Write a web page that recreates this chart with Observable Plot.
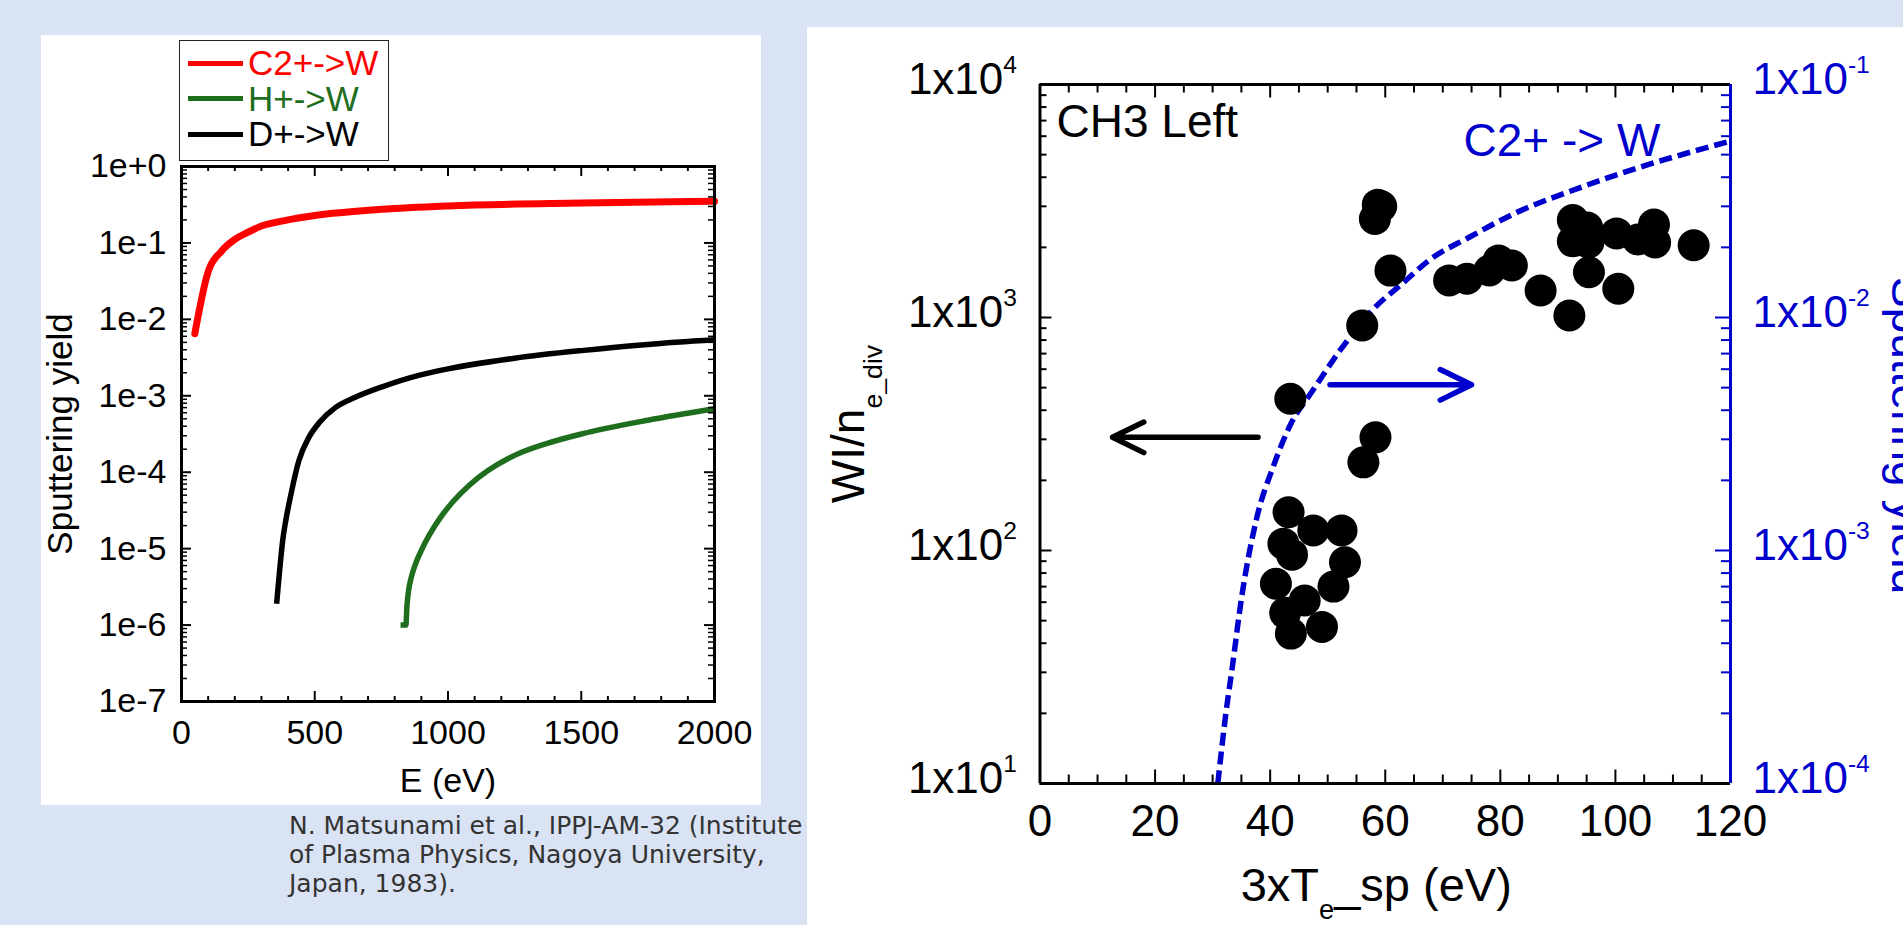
<!DOCTYPE html>
<html><head><meta charset="utf-8">
<script src="https://cdn.jsdelivr.net/npm/d3@7"></script>
<script src="https://cdn.jsdelivr.net/npm/@observablehq/plot@0.6"></script>
<style>
html,body{margin:0;padding:0;}
body{width:1903px;height:925px;background:#dae3f3;position:relative;overflow:hidden;font-family:"Liberation Sans",Arial,sans-serif;}
#leftPanel{position:absolute;left:41px;top:35px;width:720px;height:770px;background:#fff;}
#rightPanel{position:absolute;left:807px;top:27px;width:1096px;height:898px;background:#fff;}
#leftPanel svg,#rightPanel svg{position:absolute;left:0;top:0;background:transparent;max-width:none;overflow:visible;}
#legend{position:absolute;left:179px;top:40px;width:210px;height:121px;border:1.5px solid #222;background:#fff;box-sizing:border-box;}
#legend .row{position:absolute;left:0;height:36px;display:flex;align-items:center;}
#legend .sw{width:55px;height:5px;margin-left:8px;}
#legend .lb{margin-left:5px;font-size:35px;line-height:36px;white-space:nowrap;}
#caption{position:absolute;left:289px;top:811px;font-family:"DejaVu Sans",Verdana,sans-serif;font-size:25px;line-height:29px;color:#333;white-space:nowrap;}
</style></head>
<body>
<div id="leftPanel"></div>
<div id="rightPanel"></div>
<div id="legend"></div>
<div id="caption">N. Matsunami et al., IPPJ-AM-32 (Institute<br>of Plasma Physics, Nagoya University,<br>Japan, 1983).</div>
<script>
// ---------------- Left chart data: sputtering yield vs energy ----------------
const seriesNames  = ["C2+->W", "H+->W", "D+->W"];
const seriesColors = ["#ff0000", "#1e6e1e", "#000000"];
const energyC2 = [50, 100, 150, 200, 250, 300, 400, 500, 750, 1000, 1500, 2000];
const yieldC2  = [0.0065, 0.042, 0.078, 0.111, 0.138, 0.166, 0.20, 0.228, 0.275, 0.305, 0.333, 0.35];
const energyH  = [822, 842, 846, 852, 862, 878, 900, 930, 970, 1020, 1080, 1150, 1250, 1375, 1500, 1750, 2000];
const yieldH   = [1e-6, 1e-6, 1.78e-6, 2.82e-6, 4.17e-6, 6.3e-6, 9.5e-6, 1.51e-5, 2.51e-5, 4.17e-5, 6.76e-5, 1.05e-4, 1.66e-4, 2.4e-4, 3.16e-4, 4.79e-4, 6.76e-4];
const energyD  = [357, 362, 370, 380, 390, 410, 440, 479, 518, 577, 650, 750, 890, 1000, 1250, 1500, 1750, 2000];
const yieldD   = [1.9e-6, 3e-6, 6e-6, 1.3e-5, 2.2e-5, 5e-5, 1.4e-4, 2.9e-4, 4.5e-4, 7e-4, 9.5e-4, 1.3e-3, 1.85e-3, 2.25e-3, 3.1e-3, 3.9e-3, 4.7e-3, 5.4e-3];
const leftXTicks = [0, 500, 1000, 1500, 2000];
const leftXMinor = [100, 200, 300, 400, 600, 700, 800, 900, 1100, 1200, 1300, 1400, 1600, 1700, 1800, 1900];
const leftYDecades = [1e-7, 1e-6, 1e-5, 1e-4, 1e-3, 1e-2, 1e-1, 1];
const leftXLabel = "E (eV)";
const leftYLabel = "Sputtering yield";

// ---------------- Right chart data: WI/n_e_div vs 3xTe_sp ----------------
const teSp = [58.2, 58.7, 59.3, 60.9, 56.0, 43.5, 58.3, 56.2, 71.1, 74.2, 78.1, 79.7, 82.0, 87.0, 92.0, 100.5, 95.4,
              92.6, 95.1, 92.6, 95.3, 100.2, 103.9, 106.7, 106.9, 113.6,
              43.2, 42.3, 43.8, 47.5, 52.4, 53.0, 41.0, 51.0, 42.6, 46.0, 43.6, 49.0];
const wiNe = [2650, 3050, 3000, 1590, 925, 448, 306, 239, 1443, 1466, 1592, 1758, 1671, 1306, 1020, 1328, 1563,
              2618, 2432, 2123, 2099, 2296, 2163, 2508, 2099, 2042,
              146, 107, 96, 122, 122, 89, 72, 70, 54, 61, 44, 47];
const curveTe    = [30.9, 31.7, 32.3, 33.3, 35.0, 37.7, 40.5, 43.6, 47.4, 52.1, 58.3, 63.0, 67.6, 74.6, 82.4, 94.0, 106.2, 113.1, 120];
const curveYield = [1.0e-4, 1.5e-4, 2.0e-4, 3.0e-4, 6.2e-4, 1.39e-3, 2.28e-3, 3.5e-3, 4.86e-3, 7.2e-3, 0.0111, 0.0140, 0.0176, 0.0221, 0.0279, 0.0362, 0.0457, 0.0513, 0.0572];
const curveName = "C2+ -> W";
const rightXTicks = [0, 20, 40, 60, 80, 100, 120];
const rightXMinor = [5, 10, 15, 25, 30, 35, 45, 50, 55, 65, 70, 75, 85, 90, 95, 105, 110, 115];
const rightYDecades = [10, 100, 1000, 10000];
const yieldToLeft = 1e5;           // 1x10^-4 on the right axis == 1x10^1 on the left axis
const arrowsX1 = [37.9, 50.4];
const arrowsX2 = [12.6, 75.0];
const arrowsY  = [306, 514];
const arrowsColor = ["#000000", "#0000cc"];
const panelTitle = "CH3 Left";
const rightXLabel = "3xT_{e}_sp (eV)";
const rightYLabel = "WI/n_{e_div}";
const rightY2Label = "Sputtering yield";
const BLUE = "#0000cc";

// ---------------- Legend (HTML) ----------------
const legend = document.getElementById("legend");
const legendOrder = [0, 1, 2];
legendOrder.forEach((k, i) => {
  const row = document.createElement("div");
  row.className = "row";
  row.style.top = (4 + i * 35.5) + "px";
  const sw = document.createElement("div"); sw.className = "sw"; sw.style.background = seriesColors[k];
  const lb = document.createElement("div"); lb.className = "lb"; lb.style.color = seriesColors[k]; lb.textContent = seriesNames[k];
  row.appendChild(sw); row.appendChild(lb); legend.appendChild(row);
});

function minorLog(decades) {
  const out = [];
  for (let i = 0; i < decades.length - 1; i++) for (let k = 2; k <= 9; k++) out.push(+(k * decades[i]).toPrecision(3));
  return out;
}
const FONT = "Liberation Sans, Arial, Helvetica, sans-serif";

// ---------------- Left plot ----------------
{
  const W = 720, H = 770, mL = 140, mR = 47, mT = 131, mB = 104;
  const FW = W - mL - mR, FH = H - mT - mB;
  const c2 = energyC2.map((e, i) => ({e, v: yieldC2[i]}));
  const hh = energyH.map((e, i) => ({e, v: yieldH[i]}));
  const dd = energyD.map((e, i) => ({e, v: yieldD[i]}));
  const yMinor = minorLog(leftYDecades);
  const plot = Plot.plot({
    width: W, height: H, marginLeft: mL, marginRight: mR, marginTop: mT, marginBottom: mB,
    style: {fontFamily: FONT, fontSize: "34px", background: "transparent", color: "#000"},
    x: {domain: [0, 2000]},
    y: {type: "log", domain: [1e-7, 1]},
    marks: [
      Plot.line(c2, {x: "e", y: "v", stroke: seriesColors[0], strokeWidth: 7, curve: "monotone-x"}),
      Plot.line(dd, {x: "e", y: "v", stroke: seriesColors[2], strokeWidth: 5.5, curve: "monotone-x", strokeLinecap: "butt"}),
      Plot.line(hh, {x: "e", y: "v", stroke: seriesColors[1], strokeWidth: 5.5, curve: "monotone-x", strokeLinecap: "butt"}),
      // inward ticks
      Plot.ruleX(leftXMinor, {x: d => d, insetTop: FH - 5, stroke: "#000", strokeWidth: 2}),
      Plot.ruleX(leftXTicks, {x: d => d, insetTop: FH - 10, stroke: "#000", strokeWidth: 2}),
      Plot.ruleX(leftXMinor, {x: d => d, insetBottom: FH - 5, stroke: "#000", strokeWidth: 2}),
      Plot.ruleX(leftXTicks, {x: d => d, insetBottom: FH - 10, stroke: "#000", strokeWidth: 2}),
      Plot.ruleY(yMinor, {y: d => d, insetRight: FW - 6, stroke: "#000", strokeWidth: 1.5}),
      Plot.ruleY(leftYDecades, {y: d => d, insetRight: FW - 10, stroke: "#000", strokeWidth: 2}),
      Plot.ruleY(yMinor, {y: d => d, insetLeft: FW - 6, stroke: "#000", strokeWidth: 1.5}),
      Plot.ruleY(leftYDecades, {y: d => d, insetLeft: FW - 10, stroke: "#000", strokeWidth: 2}),
      Plot.frame({stroke: "#000", strokeWidth: 3}),
      Plot.axisX({ticks: leftXTicks, tickSize: 0, tickPadding: 18, tickFormat: d => String(d), label: null, fontSize: 34}),
      Plot.axisY({ticks: leftYDecades, tickSize: 0, tickPadding: 15, label: null, fontSize: 34,
        tickFormat: d => { const e = Math.round(Math.log10(d)); return "1e" + (e >= 0 ? "+" + e : e); }}),
      Plot.text([leftYLabel], {text: d => d, frameAnchor: "left", rotate: -90, dx: -109.5, lineAnchor: "bottom", textAnchor: "middle", fontSize: 35}),
      Plot.text([leftXLabel], {text: d => d, frameAnchor: "bottom", dy: 90, lineAnchor: "bottom", textAnchor: "middle", fontSize: 34})
    ]
  });
  document.getElementById("leftPanel").appendChild(plot);
}

// ---------------- Right plot ----------------
{
  const W = 1096, H = 898, mL = 232.5, mR = 173, mT = 57, mB = 142;
  const FW = W - mL - mR, FH = H - mT - mB;
  const pts = teSp.map((t, i) => ({t, w: wiNe[i]}));
  const crv = curveTe.map((t, i) => ({t, s: curveYield[i]}));
  const yMinor = minorLog(rightYDecades);
  const plot = Plot.plot({
    width: W, height: H, marginLeft: mL, marginRight: mR, marginTop: mT, marginBottom: mB,
    style: {fontFamily: FONT, fontSize: "44px", background: "transparent", color: "#000"},
    x: {domain: [0, 120]},
    y: {type: "log", domain: [10, 10000]},
    marks: [
      Plot.line(crv, {x: "t", y: d => d.s * yieldToLeft, stroke: BLUE, strokeWidth: 5.5, strokeDasharray: "13,6", strokeLinecap: "butt", curve: "monotone-x"}),
      Plot.dot(pts, {x: "t", y: "w", r: 16, fill: "#000", stroke: "none"}),
      ...arrowsX1.map((x1, i) => Plot.arrow([i], {x1: () => x1, x2: () => arrowsX2[i], y1: () => arrowsY[i], y2: () => arrowsY[i],
        stroke: arrowsColor[i], strokeWidth: 5.5, headLength: 9.5, headAngle: 52})),
      // inward ticks
      Plot.ruleX(rightXMinor, {x: d => d, insetTop: FH - 8.5, stroke: "#000", strokeWidth: 2}),
      Plot.ruleX(rightXTicks, {x: d => d, insetTop: FH - 13.5, stroke: "#000", strokeWidth: 2}),
      Plot.ruleX(rightXMinor, {x: d => d, insetBottom: FH - 8.5, stroke: "#000", strokeWidth: 2}),
      Plot.ruleX(rightXTicks, {x: d => d, insetBottom: FH - 13.5, stroke: "#000", strokeWidth: 2}),
      Plot.ruleY(yMinor, {y: d => d, insetRight: FW - 7, stroke: "#000", strokeWidth: 2}),
      Plot.ruleY(rightYDecades, {y: d => d, insetRight: FW - 12, stroke: "#000", strokeWidth: 2}),
      Plot.ruleY(yMinor, {y: d => d, insetLeft: FW - 9, stroke: BLUE, strokeWidth: 2}),
      Plot.ruleY(rightYDecades, {y: d => d, insetLeft: FW - 15, stroke: BLUE, strokeWidth: 2}),
      // frame edges
      Plot.ruleY([10, 10000], {y: d => d, stroke: "#000", strokeWidth: 3}),
      Plot.ruleX([0], {x: d => d, stroke: "#000", strokeWidth: 3}),
      Plot.ruleX([120], {x: d => d, stroke: BLUE, strokeWidth: 3}),
      Plot.axisX({ticks: rightXTicks, tickSize: 0, tickPadding: 21, tickFormat: d => String(d), label: null, fontSize: 44}),
      Plot.axisY({anchor: "left", ticks: rightYDecades, tickSize: 0, tickPadding: 23, label: null, fontSize: 44, dy: -5,
        tickFormat: d => `1x10^{${Math.round(Math.log10(d))}}`}),
      Plot.axisY({anchor: "right", ticks: rightYDecades, tickSize: 0, tickPadding: 22, label: null, fontSize: 44, dy: -5, color: BLUE,
        tickFormat: d => `1x10^{${Math.round(Math.log10(d / yieldToLeft))}}`}),
      Plot.text([panelTitle], {text: d => d, frameAnchor: "top-left", dx: 16.5, dy: 52.7, lineAnchor: "bottom", textAnchor: "start", fontSize: 46}),
      Plot.text([curveName], {text: d => d, x: () => 107.8, y: () => 4910, lineAnchor: "bottom", textAnchor: "end", fontSize: 46, fill: BLUE}),
      Plot.text([rightYLabel], {text: d => d, frameAnchor: "left", rotate: -90, dx: -176, dy: -10, lineAnchor: "bottom", textAnchor: "middle", fontSize: 46}),
      Plot.text([rightXLabel], {text: d => d, frameAnchor: "bottom", dx: -9, dy: 117, lineAnchor: "bottom", textAnchor: "middle", fontSize: 47}),
      Plot.text([rightY2Label], {text: d => d, frameAnchor: "right", rotate: 90, dx: 161, dy: 1.5, lineAnchor: "bottom", textAnchor: "middle", fontSize: 46, fill: BLUE})
    ]
  });
  document.getElementById("rightPanel").appendChild(plot);
}

// ---------------- sub/superscript rendering ----------------
function richify(root) {
  const NS = "http://www.w3.org/2000/svg";
  root.querySelectorAll("text").forEach(t => {
    const s = t.textContent;
    if (!/[\^_]\{/.test(s)) return;
    const fs = parseFloat(getComputedStyle(t).fontSize) || 40;
    const re = /([\^_])\{([^}]*)\}/g;
    const parts = []; let last = 0, m;
    while ((m = re.exec(s))) {
      if (m.index > last) parts.push({t: s.slice(last, m.index), k: 0});
      parts.push({t: m[2], k: m[1] === "^" ? -1 : 1});
      last = re.lastIndex;
    }
    if (last < s.length) parts.push({t: s.slice(last), k: 0});
    t.textContent = "";
    let shift = 0;
    for (const p of parts) {
      const ts = document.createElementNS(NS, "tspan");
      const target = p.k === -1 ? -0.47 * fs : p.k === 1 ? 0.4 * fs : 0;
      if (target - shift !== 0) ts.setAttribute("dy", (target - shift).toFixed(2));
      shift = target;
      if (p.k) ts.setAttribute("font-size", (p.k === -1 ? 0.56 : 0.58) * fs);
      ts.textContent = p.t;
      t.appendChild(ts);
    }
  });
}
richify(document.body);
</script>
</body></html>
